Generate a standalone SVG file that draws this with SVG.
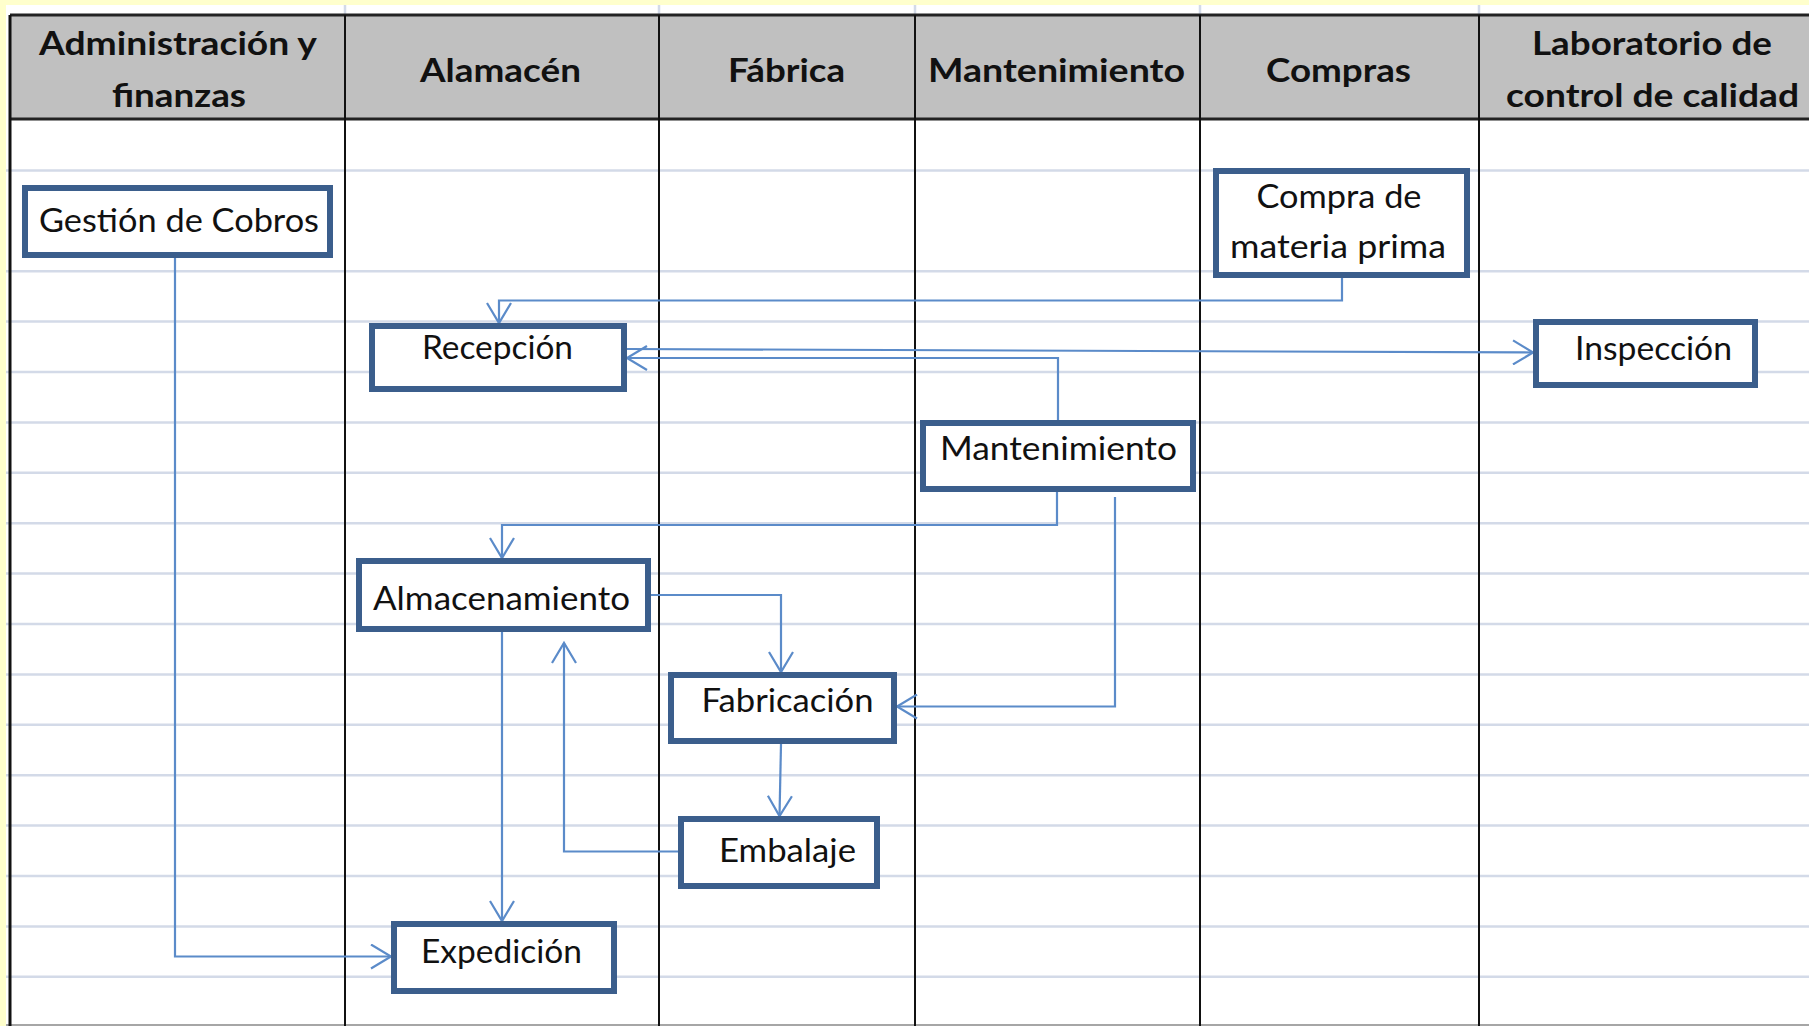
<svg xmlns="http://www.w3.org/2000/svg" width="1809" height="1026" viewBox="0 0 1809 1026">
<style>
.grid{stroke:#D3DAE8;stroke-width:2.5;fill:none}
.col{stroke:#111;stroke-width:2;fill:none}
.hdr{font-family:Lato,"Open Sans","Liberation Sans",sans-serif;font-weight:bold;font-size:33px;fill:#111}
.node rect{fill:#fff;stroke:#3B5E8C;stroke-width:6}
.node text{font-family:Lato,"Open Sans","Liberation Sans",sans-serif;font-size:32px;fill:#111}
.conn{stroke:#5B8BC9;stroke-width:2.2;fill:none}
</style>
<defs>
<marker id="arr" markerUnits="userSpaceOnUse" viewBox="0 0 24 26" markerWidth="24" markerHeight="26" refX="21" refY="13" orient="auto">
<path d="M1,1 L21,13 L1,25" fill="none" stroke="#5B8BC9" stroke-width="2.2"/>
</marker>
</defs>
<rect x="0" y="0" width="1809" height="1026" fill="#fff"/>
<rect x="0" y="0" width="1809" height="5" fill="#FFFFCC"/>
<rect x="0" y="0" width="6" height="1026" fill="#FFFFCC"/>
<g id="grid">
<path class="grid" d="M345,5V15M659,5V15M915,5V15M1200,5V15M1479,5V15"/>
<path class="grid" d="M6,170.4H1809M6,271.2H1809M6,321.6H1809M6,372H1809M6,422.4H1809M6,472.8H1809M6,523.2H1809M6,573.6H1809M6,624H1809M6,674.4H1809M6,724.8H1809M6,775.2H1809M6,825.6H1809M6,876H1809M6,926.4H1809M6,976.8H1809"/>
<path d="M6,1025H1809" stroke="#888" stroke-width="1.5"/>
</g>
<g id="header">
<rect x="10" y="15" width="1799" height="104" fill="#C0C0C0"/>
<path d="M10,15H1809M10,119H1809" stroke="#222" stroke-width="3"/>
<path class="col" d="M10,15V1026M345,15V1026M659,15V1026M915,15V1026M1200,15V1026M1479,15V1026"/>
<path d="M10,15V1026" stroke="#111" stroke-width="3"/>
<text class="hdr" x="39" y="55" textLength="278" lengthAdjust="spacingAndGlyphs">Administración y</text>
<text class="hdr" x="112" y="107" textLength="134" lengthAdjust="spacingAndGlyphs">finanzas</text>
<text class="hdr" x="420" y="82" textLength="161" lengthAdjust="spacingAndGlyphs">Alamacén</text>
<text class="hdr" x="728" y="82" textLength="117" lengthAdjust="spacingAndGlyphs">Fábrica</text>
<text class="hdr" x="928" y="82" textLength="257" lengthAdjust="spacingAndGlyphs">Mantenimiento</text>
<text class="hdr" x="1266" y="82" textLength="145" lengthAdjust="spacingAndGlyphs">Compras</text>
<text class="hdr" x="1532" y="55" textLength="240" lengthAdjust="spacingAndGlyphs">Laboratorio de</text>
<text class="hdr" x="1506" y="107" textLength="293" lengthAdjust="spacingAndGlyphs">control de calidad</text>
</g>
<g id="connectors">
<path class="conn" marker-end="url(#arr)" d="M175,258V956.5H391"/>
<path class="conn" marker-end="url(#arr)" d="M1342,278V300.5H499V323"/>
<path class="conn" marker-end="url(#arr)" d="M627,349L1533,352.5"/>
<path class="conn" marker-end="url(#arr)" d="M1058,420V358H627"/>
<path class="conn" marker-end="url(#arr)" d="M1057,492V525H502V558"/>
<path class="conn" marker-end="url(#arr)" d="M1115,497V706.5H897"/>
<path class="conn" marker-end="url(#arr)" d="M651,595H781V672"/>
<path class="conn" marker-end="url(#arr)" d="M502,632V921"/>
<path class="conn" marker-end="url(#arr)" d="M678,851.5H564V643"/>
<path class="conn" marker-end="url(#arr)" d="M781,744L779.5,816"/>
</g>
<g id="n-gestion" class="node"><rect x="25" y="188" width="305" height="67"/><text x="39" y="232" textLength="280" lengthAdjust="spacingAndGlyphs">Gestión de Cobros</text></g>
<g id="n-compra" class="node"><rect x="1216" y="171" width="251" height="104"/><text x="1256.5" y="208" textLength="165" lengthAdjust="spacingAndGlyphs">Compra de</text><text x="1230" y="258" textLength="216" lengthAdjust="spacingAndGlyphs">materia prima</text></g>
<g id="n-recepcion" class="node"><rect x="372" y="326" width="252" height="63"/><text x="422" y="359" textLength="151" lengthAdjust="spacingAndGlyphs">Recepción</text></g>
<g id="n-inspeccion" class="node"><rect x="1536" y="322" width="219" height="63"/><text x="1575" y="360" textLength="157" lengthAdjust="spacingAndGlyphs">Inspección</text></g>
<g id="n-mantenimiento" class="node"><rect x="923" y="423" width="270" height="66"/><text x="940" y="460" textLength="237" lengthAdjust="spacingAndGlyphs">Mantenimiento</text></g>
<g id="n-almacenamiento" class="node"><rect x="359" y="561" width="289" height="68"/><text x="373" y="610" textLength="257" lengthAdjust="spacingAndGlyphs">Almacenamiento</text></g>
<g id="n-fabricacion" class="node"><rect x="671" y="675" width="223" height="66"/><text x="701.5" y="712" textLength="172" lengthAdjust="spacingAndGlyphs">Fabricación</text></g>
<g id="n-embalaje" class="node"><rect x="681" y="819" width="196" height="67"/><text x="719" y="862" textLength="137" lengthAdjust="spacingAndGlyphs">Embalaje</text></g>
<g id="n-expedicion" class="node"><rect x="394" y="924" width="220" height="67"/><text x="421" y="963" textLength="161" lengthAdjust="spacingAndGlyphs">Expedición</text></g>
</svg>
